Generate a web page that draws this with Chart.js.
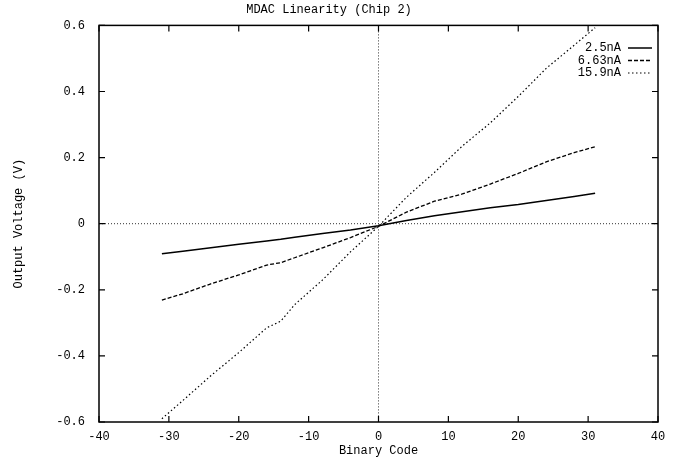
<!DOCTYPE html>
<html><head><meta charset="utf-8">
<script src="https://cdn.jsdelivr.net/npm/chart.js@4/dist/chart.umd.min.js"></script>
<style>html,body{margin:0;padding:0;background:#fff}#wrap{width:680px;height:460px;position:relative}</style>
</head><body><div id="wrap"><canvas id="c" width="680" height="460"></canvas></div>
<script>
const chartTitle = 'MDAC Linearity (Chip 2)';
const xTitle = 'Binary Code';
const yTitle = 'Output Voltage (V)';
const seriesNames = ['2.5nA', '6.63nA', '15.9nA'];
const codes   = [-31, -28, -24, -20, -16, -14, -12, -8, -4, 0, 4, 8, 12, 16, 20, 24, 28, 31];
const v2_5nA  = [-0.091, -0.083, -0.073, -0.062, -0.052, -0.047, -0.041, -0.030, -0.019, -0.006, 0.010, 0.024, 0.036, 0.048, 0.058, 0.070, 0.082, 0.092];
const v6_63nA = [-0.231, -0.212, -0.182, -0.155, -0.125, -0.118, -0.103, -0.073, -0.042, -0.008, 0.035, 0.068, 0.090, 0.120, 0.152, 0.187, 0.215, 0.233];
const v15_9nA = [-0.590, -0.535, -0.460, -0.390, -0.315, -0.295, -0.245, -0.170, -0.085, -0.008, 0.080, 0.155, 0.235, 0.305, 0.385, 0.470, 0.540, 0.593];
const xTicks = [-40, -30, -20, -10, 0, 10, 20, 30, 40];
const yTicks = [-0.6, -0.4, -0.2, 0, 0.2, 0.4, 0.6];

const FONT = "'Liberation Mono', 'DejaVu Sans Mono', monospace";
Chart.defaults.font.family = FONT;
Chart.defaults.font.size = 12;
Chart.defaults.color = '#000';

const styles = [
  { borderDash: [], borderWidth: 1.5 },
  { borderDash: [4, 2], borderWidth: 1.3 },
  { borderDash: [1.5, 2.5], borderWidth: 1.2 }
];
const seriesValues = [v2_5nA, v6_63nA, v15_9nA];

const datasets = seriesNames.map((name, i) => ({
  label: name,
  data: codes.map((c, k) => ({ x: c, y: seriesValues[i][k] })),
  borderColor: '#000',
  borderWidth: styles[i].borderWidth,
  borderDash: styles[i].borderDash,
  pointRadius: 0,
  fill: false,
  tension: 0
}));

const framePlugin = {
  id: 'frame',
  beforeDatasetsDraw(chart) {
    const { ctx, chartArea: a, scales: { x, y } } = chart;
    ctx.save();
    ctx.strokeStyle = '#333';
    ctx.lineWidth = 1;
    ctx.setLineDash([1, 2]);
    const y0 = y.getPixelForValue(0), x0 = x.getPixelForValue(0);
    ctx.beginPath(); ctx.moveTo(a.left, y0); ctx.lineTo(a.right, y0); ctx.stroke();
    ctx.beginPath(); ctx.moveTo(x0, a.top); ctx.lineTo(x0, a.bottom); ctx.stroke();
    ctx.restore();
  },
  afterDatasetsDraw(chart) {
    const { ctx, chartArea: a, scales: { x, y } } = chart;
    ctx.save();
    ctx.strokeStyle = '#000';
    ctx.lineWidth = 1.5;
    ctx.setLineDash([]);
    ctx.strokeRect(a.left, a.top, a.right - a.left, a.bottom - a.top);
    const L = 6;
    ctx.lineWidth = 1.2;
    ctx.beginPath();
    xTicks.forEach(v => {
      const px = x.getPixelForValue(v);
      ctx.moveTo(px, a.bottom); ctx.lineTo(px, a.bottom - L);
      ctx.moveTo(px, a.top); ctx.lineTo(px, a.top + L);
    });
    yTicks.forEach(v => {
      const py = y.getPixelForValue(v);
      ctx.moveTo(a.left, py); ctx.lineTo(a.left + L, py);
      ctx.moveTo(a.right, py); ctx.lineTo(a.right - L, py);
    });
    ctx.stroke();
    // legend
    ctx.font = '12px ' + FONT;
    ctx.fillStyle = '#000';
    ctx.textAlign = 'right';
    ctx.textBaseline = 'middle';
    chart.data.datasets.forEach((ds, i) => {
      const ly = 48 + 12.5 * i;
      ctx.fillText(ds.label, 621, ly);
      ctx.beginPath();
      ctx.lineWidth = ds.borderWidth;
      ctx.setLineDash(ds.borderDash);
      ctx.moveTo(628, ly); ctx.lineTo(652, ly);
      ctx.stroke();
    });
    ctx.restore();
  }
};

new Chart(document.getElementById('c'), {
  type: 'line',
  data: { datasets },
  options: {
    responsive: false,
    animation: false,
    devicePixelRatio: 1,
    layout: { padding: { left: 0, right: 22, top: 0, bottom: 0 } },
    plugins: {
      legend: { display: false },
      tooltip: { enabled: false },
      title: {
        display: true,
        text: chartTitle,
        font: { size: 12, family: FONT, weight: 'normal' },
        color: '#000',
        padding: { top: 3, bottom: 8 }
      }
    },
    scales: {
      x: {
        type: 'linear',
        min: -40, max: 40,
        afterBuildTicks: s => { s.ticks = xTicks.map(v => ({ value: v })); },
        afterFit: s => { s.height = 38; },
        grid: { display: false, drawTicks: false },
        border: { display: false },
        ticks: { padding: 8, maxRotation: 0, autoSkip: false, callback: v => String(v) },
        title: { display: true, text: xTitle, padding: { top: 0, bottom: 2 }, font: { size: 12 } }
      },
      y: {
        type: 'linear',
        min: -0.6, max: 0.6,
        afterBuildTicks: s => { s.ticks = yTicks.map(v => ({ value: v })); },
        afterFit: s => { s.width = 99; },
        grid: { display: false, drawTicks: false },
        border: { display: false },
        ticks: { padding: 14, autoSkip: false, callback: v => String(Math.round(v * 10) / 10) },
        title: { display: true, text: yTitle, padding: { top: 12, bottom: 0 }, font: { size: 12 } }
      }
    }
  },
  plugins: [framePlugin]
});
</script></body></html>
